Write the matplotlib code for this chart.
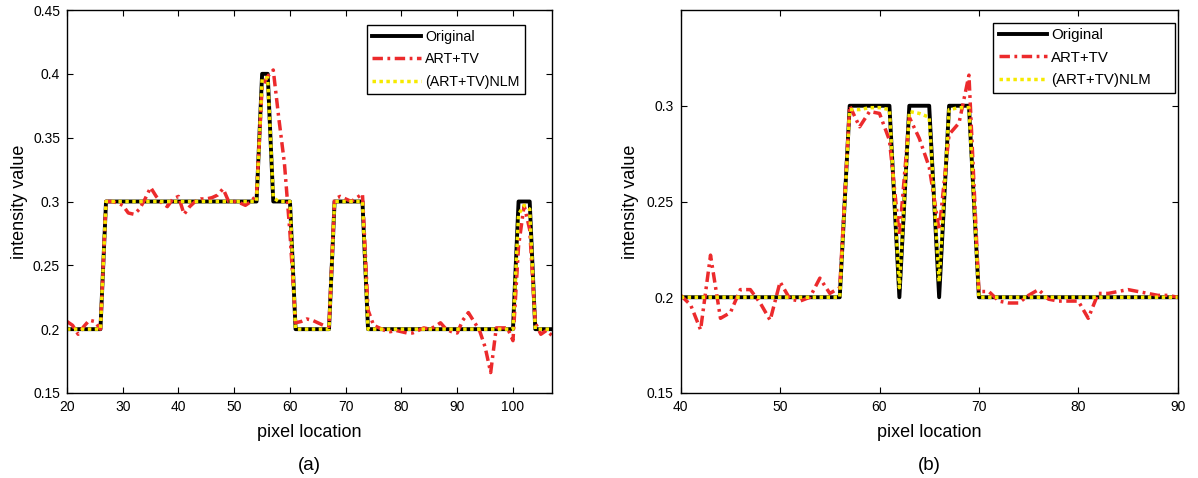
import matplotlib
matplotlib.use('Agg')
import matplotlib.pyplot as plt

plt.rcParams['font.family'] = ['Liberation Sans', 'DejaVu Sans']

# ---- panel (a): pixel locations 20..107 ----
x_a = list(range(20, 108))
orig_a = [0.2, 0.2, 0.2, 0.2, 0.2, 0.2, 0.2,
          0.3, 0.3, 0.3, 0.3, 0.3, 0.3, 0.3, 0.3, 0.3, 0.3, 0.3, 0.3, 0.3, 0.3,
          0.3, 0.3, 0.3, 0.3, 0.3, 0.3, 0.3, 0.3, 0.3, 0.3, 0.3, 0.3, 0.3, 0.3,
          0.4, 0.4,
          0.3, 0.3, 0.3, 0.3,
          0.2, 0.2, 0.2, 0.2, 0.2, 0.2, 0.2,
          0.3, 0.3, 0.3, 0.3, 0.3, 0.3,
          0.2, 0.2, 0.2, 0.2, 0.2, 0.2, 0.2, 0.2, 0.2, 0.2, 0.2, 0.2, 0.2, 0.2,
          0.2, 0.2, 0.2, 0.2, 0.2, 0.2, 0.2, 0.2, 0.2, 0.2, 0.2, 0.2, 0.2,
          0.3, 0.3, 0.3,
          0.2, 0.2, 0.2, 0.2]
art_a = [0.206, 0.203, 0.196, 0.202, 0.207, 0.206, 0.200,
         0.300, 0.300, 0.299, 0.297, 0.291, 0.290, 0.294, 0.302, 0.311, 0.304,
         0.299, 0.296, 0.302, 0.304, 0.290, 0.296, 0.300, 0.302, 0.302, 0.303,
         0.305, 0.310, 0.300, 0.300, 0.299, 0.297, 0.300, 0.305,
         0.390, 0.398, 0.403, 0.365, 0.330, 0.275,
         0.205, 0.206, 0.208, 0.207, 0.205, 0.203, 0.202,
         0.302, 0.304, 0.302, 0.300, 0.303, 0.306,
         0.215, 0.203, 0.201, 0.199, 0.198, 0.199, 0.198, 0.197, 0.197, 0.199,
         0.201, 0.200, 0.202, 0.205, 0.200, 0.198, 0.197, 0.207, 0.213, 0.206,
         0.199, 0.186, 0.166, 0.201, 0.201, 0.201, 0.191,
         0.265, 0.297, 0.278,
         0.205, 0.196, 0.199, 0.195]
nlm_a = [0.2, 0.2, 0.2, 0.2, 0.2, 0.2, 0.2,
         0.3, 0.3, 0.3, 0.3, 0.3, 0.3, 0.3, 0.3, 0.3, 0.3, 0.3, 0.3, 0.3, 0.3,
         0.3, 0.3, 0.3, 0.3, 0.3, 0.3, 0.3, 0.3, 0.3, 0.3, 0.3, 0.3, 0.3, 0.3,
         0.396, 0.397,
         0.303, 0.3, 0.3, 0.3,
         0.2, 0.2, 0.2, 0.2, 0.2, 0.2, 0.2,
         0.3, 0.3, 0.3, 0.3, 0.3, 0.3,
         0.2, 0.2, 0.2, 0.2, 0.2, 0.2, 0.2, 0.2, 0.2, 0.2, 0.2, 0.2, 0.2, 0.2,
         0.2, 0.2, 0.2, 0.2, 0.2, 0.2, 0.2, 0.2, 0.2, 0.2, 0.2, 0.2, 0.2,
         0.290, 0.297, 0.294,
         0.2, 0.2, 0.2, 0.2]
xticks_a = [20, 30, 40, 50, 60, 70, 80, 90, 100]
yticks_a = [0.15, 0.2, 0.25, 0.3, 0.35, 0.4, 0.45]
ylabels_a = ['0.15', '0.2', '0.25', '0.3', '0.35', '0.4', '0.45']

# ---- panel (b): pixel locations 40..90 ----
x_b = list(range(40, 91))
orig_b = [0.2, 0.2, 0.2, 0.2, 0.2, 0.2, 0.2, 0.2, 0.2, 0.2, 0.2, 0.2, 0.2,
          0.2, 0.2, 0.2, 0.2,
          0.3, 0.3, 0.3, 0.3, 0.3,
          0.2,
          0.3, 0.3, 0.3,
          0.2,
          0.3, 0.3, 0.3,
          0.2, 0.2, 0.2, 0.2, 0.2, 0.2, 0.2, 0.2, 0.2, 0.2, 0.2, 0.2, 0.2,
          0.2, 0.2, 0.2, 0.2, 0.2, 0.2, 0.2, 0.2]
art_b = [0.201, 0.196, 0.183, 0.222, 0.189, 0.192, 0.204, 0.204, 0.197,
         0.188, 0.208, 0.199, 0.198, 0.200, 0.210, 0.202, 0.205,
         0.300, 0.289, 0.297, 0.296, 0.282,
         0.232,
         0.294, 0.283, 0.268,
         0.235,
         0.285, 0.291, 0.316,
         0.203, 0.203, 0.198, 0.197, 0.197, 0.201, 0.204, 0.199, 0.198,
         0.198, 0.198, 0.189, 0.202, 0.202, 0.203, 0.204, 0.203, 0.202,
         0.201, 0.201, 0.200]
nlm_b = [0.2, 0.2, 0.2, 0.2, 0.2, 0.2, 0.2, 0.2, 0.2, 0.2, 0.2, 0.2, 0.2,
         0.2, 0.2, 0.2, 0.2,
         0.298, 0.298, 0.299, 0.299, 0.298,
         0.205,
         0.297, 0.296, 0.294,
         0.208,
         0.298, 0.299, 0.299,
         0.2, 0.2, 0.2, 0.2, 0.2, 0.2, 0.2, 0.2, 0.2, 0.2, 0.2, 0.2, 0.2,
         0.2, 0.2, 0.2, 0.2, 0.2, 0.2, 0.2, 0.2]
xticks_b = [40, 50, 60, 70, 80, 90]
yticks_b = [0.15, 0.2, 0.25, 0.3]
ylabels_b = ['0.15', '0.2', '0.25', '0.3']

series_names = ['Original', 'ART+TV', '(ART+TV)NLM']

W, H = 1198, 478
fig = plt.figure(figsize=(W / 100, H / 100), dpi=100)
ax_a = fig.add_axes([67 / W, 85 / H, 485 / W, 383 / H])
ax_b = fig.add_axes([680.7 / W, 85 / H, 497 / W, 383 / H])


def draw_panel(ax, x, orig, art, nlm, xlim, ylim, xticks, yticks, ylabels,
               panel, ylab_x, leg_opts):
    ax.plot(x, orig, color='black', lw=2.8, label=series_names[0])
    ax.plot(x, art, color='#ec2a2c', lw=2.5,
            linestyle=(0, (3.0, 1.3, 0.8, 1.3)), label=series_names[1])
    ax.plot(x, nlm, color='#f6ea00', lw=2.5,
            linestyle=(0, (1.0, 1.0)), label=series_names[2])
    ax.set_xlim(*xlim)
    ax.set_ylim(*ylim)
    ax.set_xticks(xticks)
    ax.set_yticks(yticks)
    ax.set_yticklabels(ylabels)
    ax.tick_params(direction='in', top=True, right=True, length=4.5,
                   width=0.8, labelsize=10, pad=5)
    for s in ax.spines.values():
        s.set_linewidth(1.0)
    ax.set_xlabel('pixel location', fontsize=13)
    ax.xaxis.set_label_coords(0.5, -0.104)
    ax.xaxis.label.set_verticalalignment('center')
    ax.set_ylabel('intensity value', fontsize=13)
    ax.yaxis.set_label_coords(ylab_x, 0.5)
    ax.yaxis.label.set_verticalalignment('center')
    ax.text(0.5, -0.19, panel, transform=ax.transAxes, fontsize=13.5,
            ha='center', va='center')
    leg = ax.legend(loc='upper left', borderaxespad=0, fancybox=False,
                    edgecolor='black', framealpha=1, handletextpad=0.3,
                    borderpad=0.35, labelspacing=0.58, **leg_opts)
    leg.get_frame().set_linewidth(1.0)


draw_panel(ax_a, x_a, orig_a, art_a, nlm_a, (20, 107), (0.15, 0.45),
           xticks_a, yticks_a, ylabels_a, '(a)', -0.097,
           dict(bbox_to_anchor=(0.619, 0.961), fontsize=10.3,
                handlelength=3.4))
draw_panel(ax_b, x_b, orig_b, art_b, nlm_b, (40, 90), (0.15, 0.35),
           xticks_b, yticks_b, ylabels_b, '(b)', -0.102,
           dict(bbox_to_anchor=(0.629, 0.0, 0.366, 0.967), mode='expand',
                fontsize=10.8, handlelength=3.2))

fig.savefig('out.png', dpi=100)
